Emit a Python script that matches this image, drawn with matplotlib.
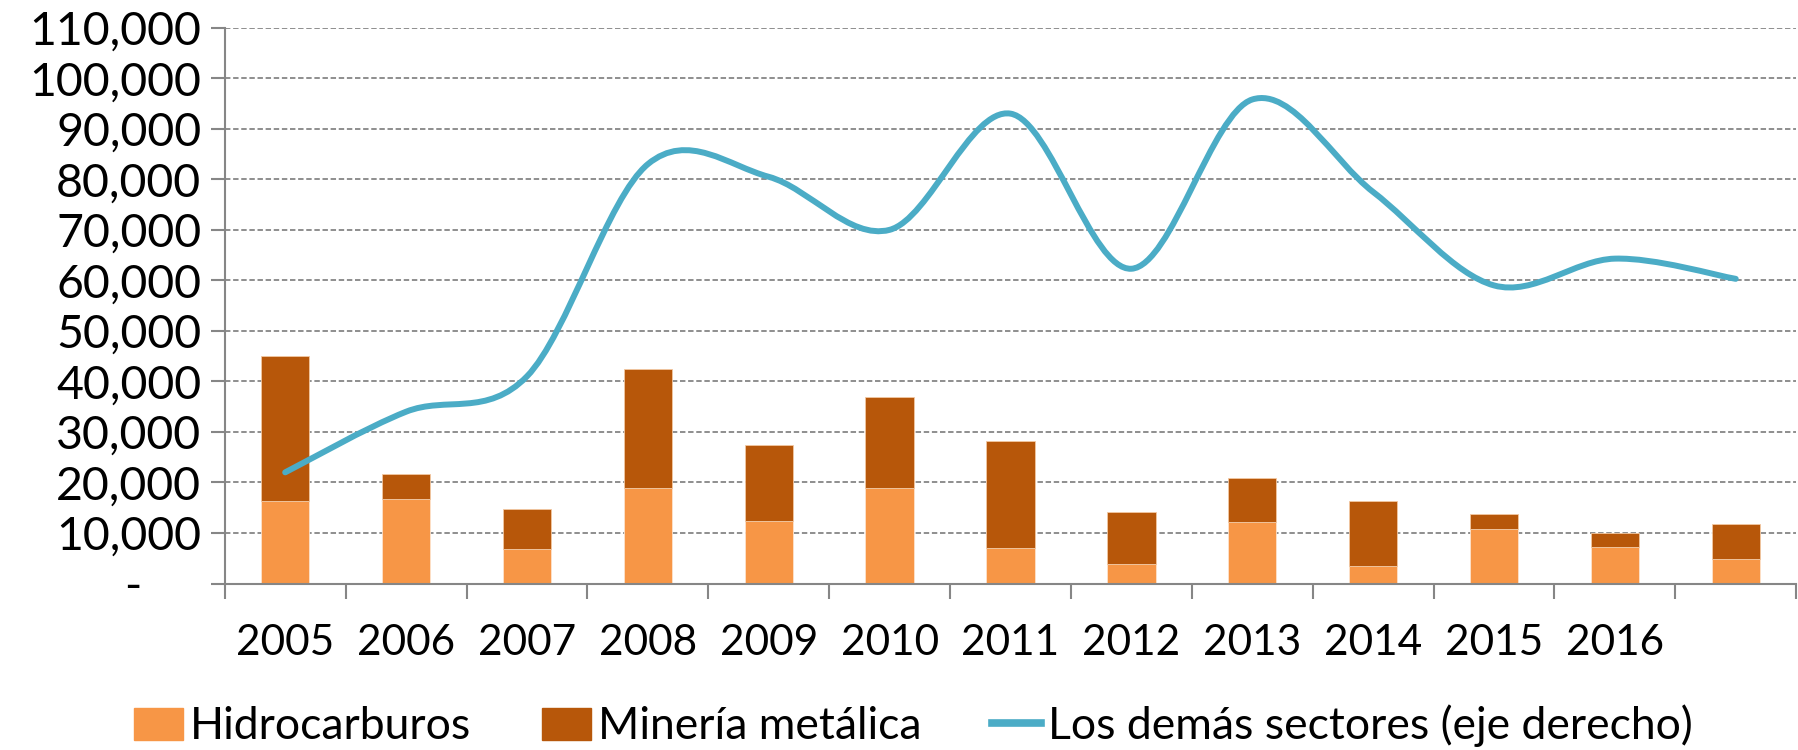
import matplotlib
matplotlib.use('Agg')
import matplotlib.pyplot as plt
from matplotlib.path import Path
from matplotlib.patches import PathPatch
from matplotlib.lines import Line2D
from matplotlib.ticker import FuncFormatter, FixedLocator

plt.rcParams['font.family'] = ['Lato', 'DejaVu Sans']

years = ['2005', '2006', '2007', '2008', '2009', '2010', '2011', '2012',
         '2013', '2014', '2015', '2016', '']
hidrocarburos = [16300, 16700, 6800, 19000, 12400, 19000, 7000, 3800,
                 12100, 3500, 10700, 7300, 4900]
mineria_total = [45100, 21600, 14800, 42500, 27500, 37000, 28300, 14100,
                 20800, 16400, 13800, 9900, 11700]
demas_sectores = [22000, 34000, 41000, 83000, 80500, 70000, 93000, 62300,
                  95800, 77500, 59000, 64300, 60300]

mineria = [t - h for t, h in zip(mineria_total, hidrocarburos)]

c_hidro = '#F79646'
c_min = '#B7570A'
c_line = '#4BACC6'
c_grid = '#868686'


def smooth_path(xs, ys):
    # bezier tipo Excel: puntos de control a 1/6 de la diferencia de vecinos
    n = len(xs)
    verts = [(xs[0], ys[0])]
    codes = [Path.MOVETO]
    for i in range(n - 1):
        p0 = max(i - 1, 0)
        p3 = min(i + 2, n - 1)
        c1 = (xs[i] + (xs[i + 1] - xs[p0]) / 6, ys[i] + (ys[i + 1] - ys[p0]) / 6)
        c2 = (xs[i + 1] - (xs[p3] - xs[i]) / 6, ys[i + 1] - (ys[p3] - ys[i]) / 6)
        verts += [c1, c2, (xs[i + 1], ys[i + 1])]
        codes += [Path.CURVE4] * 3
    return Path(verts, codes)


fig = plt.figure(figsize=(17.98, 7.5), dpi=100)
ax = fig.add_axes([0.125, 0.222, 0.874, 0.741])

x = list(range(len(years)))
ax.bar(x, hidrocarburos, width=0.4, color=c_hidro, edgecolor='#fde3cc', linewidth=0.6, zorder=3)
ax.bar(x, mineria, width=0.4, bottom=hidrocarburos, color=c_min, edgecolor='#f3c9a3', linewidth=0.6, zorder=3)

ax.add_patch(PathPatch(smooth_path(x, demas_sectores), facecolor='none', edgecolor=c_line,
                       lw=4.3, capstyle='round', joinstyle='round', zorder=4))

ax.set_xlim(-0.5, 12.5)
ax.set_ylim(0, 110000)
ax.set_yticks(range(0, 110001, 10000))
ax.yaxis.set_major_formatter(FuncFormatter(lambda v, p: '-     ' if v == 0 else '{:,.0f}'.format(v)))
ax.set_xticks(x)
ax.set_xticklabels(years)
ax.xaxis.set_minor_locator(FixedLocator([i - 0.5 for i in range(14)]))

ax.tick_params(axis='y', labelsize=33.5, length=10, width=1.5, color=c_grid, pad=7)
ax.tick_params(axis='x', which='major', labelsize=30.5, length=0, pad=29)
ax.tick_params(axis='x', which='minor', length=11, width=1.5, color=c_grid)

ax.grid(axis='y', color=c_grid, linestyle=(0, (3, 1.5)), linewidth=1.3, zorder=0)
for s in ['top', 'right']:
    ax.spines[s].set_visible(False)
for s in ['left', 'bottom']:
    ax.spines[s].set_color(c_grid)
    ax.spines[s].set_linewidth(1.5)
ax.spines['bottom'].set_zorder(5)

handles = [plt.Rectangle((0, 0), 1, 1, color=c_hidro),
           plt.Rectangle((0, 0), 1, 1, color=c_min),
           Line2D([0], [0], color=c_line, lw=5.5)]
labels = ['Hidrocarburos', 'Minería metálica', 'Los demás sectores (eje derecho)']
fig.legend(handles, labels, loc='center', bbox_to_anchor=(0.508, 0.032), ncol=3,
           frameon=False, fontsize=32, handlelength=1.1, handleheight=0.75,
           handletextpad=0.15, columnspacing=1.6)

fig.savefig('out.png', dpi=100)
